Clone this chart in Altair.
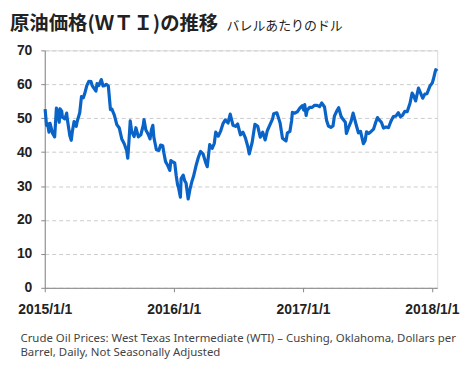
import altair as alt
import pandas as pd

dates = [
    "2015-01-02","2015-01-06","2015-01-09","2015-01-13","2015-01-16","2015-01-23","2015-01-29",
    "2015-02-03","2015-02-06","2015-02-11","2015-02-13","2015-02-18","2015-02-20","2015-02-27",
    "2015-03-04","2015-03-06","2015-03-13","2015-03-17","2015-03-20","2015-03-25","2015-03-31",
    "2015-04-03","2015-04-10","2015-04-15","2015-04-20","2015-04-24","2015-04-30",
    "2015-05-06","2015-05-12","2015-05-15","2015-05-20","2015-05-26","2015-05-29",
    "2015-06-03","2015-06-10","2015-06-15","2015-06-19","2015-06-24","2015-06-30",
    "2015-07-06","2015-07-10","2015-07-17","2015-07-24","2015-07-31",
    "2015-08-07","2015-08-14","2015-08-21","2015-08-24","2015-08-27","2015-08-31",
    "2015-09-04","2015-09-11","2015-09-16","2015-09-23","2015-09-30",
    "2015-10-07","2015-10-09","2015-10-14","2015-10-21","2015-10-26","2015-10-30",
    "2015-11-03","2015-11-06","2015-11-13","2015-11-20","2015-11-25",
    "2015-12-01","2015-12-04","2015-12-09","2015-12-14","2015-12-21","2015-12-24","2015-12-31",
    "2016-01-04","2016-01-08","2016-01-12","2016-01-15","2016-01-20","2016-01-22","2016-01-28",
    "2016-02-01","2016-02-05","2016-02-11","2016-02-16","2016-02-22","2016-02-26",
    "2016-03-04","2016-03-11","2016-03-17","2016-03-24",
    "2016-04-01","2016-04-05","2016-04-12","2016-04-19","2016-04-25","2016-04-29",
    "2016-05-06","2016-05-13","2016-05-20","2016-05-26",
    "2016-06-03","2016-06-09","2016-06-17","2016-06-24","2016-06-30",
    "2016-07-08","2016-07-15","2016-07-22","2016-07-29",
    "2016-08-02","2016-08-10","2016-08-18","2016-08-26",
    "2016-09-02","2016-09-09","2016-09-16","2016-09-22","2016-09-30",
    "2016-10-07","2016-10-10","2016-10-19","2016-10-28",
    "2016-11-04","2016-11-14","2016-11-18","2016-11-25","2016-11-30",
    "2016-12-02","2016-12-09","2016-12-16","2016-12-23","2016-12-30",
    "2017-01-03","2017-01-06","2017-01-10","2017-01-13","2017-01-20","2017-01-27",
    "2017-02-03","2017-02-10","2017-02-17","2017-02-23",
    "2017-03-03","2017-03-09","2017-03-14","2017-03-21","2017-03-27","2017-03-31",
    "2017-04-07","2017-04-12","2017-04-19","2017-04-25",
    "2017-05-01","2017-05-04","2017-05-10","2017-05-17","2017-05-23","2017-05-31",
    "2017-06-07","2017-06-13","2017-06-21","2017-06-26","2017-06-30",
    "2017-07-06","2017-07-13","2017-07-20","2017-07-26","2017-07-31",
    "2017-08-04","2017-08-11","2017-08-17","2017-08-24","2017-08-31",
    "2017-09-07","2017-09-14","2017-09-21","2017-09-28",
    "2017-10-04","2017-10-10","2017-10-16","2017-10-23","2017-10-31",
    "2017-11-06","2017-11-10","2017-11-16","2017-11-24","2017-11-30",
    "2017-12-06","2017-12-12","2017-12-18","2017-12-27",
    "2018-01-02","2018-01-05","2018-01-10","2018-01-12","2018-01-16",
]

prices = [
    52.7,47.9,48.4,45.9,48.5,45.6,44.5,
    53.0,51.7,48.8,52.8,52.1,50.3,49.8,
    51.5,49.6,44.8,43.5,46.0,49.0,47.6,
    49.1,51.6,56.4,56.0,57.2,59.6,
    60.9,60.8,59.7,58.9,58.0,60.2,
    59.6,61.4,59.5,59.6,60.0,59.5,
    52.5,52.7,50.9,48.1,47.1,
    43.9,42.5,40.4,38.2,42.6,49.2,
    46.1,44.6,47.2,44.5,45.1,
    48.0,49.6,46.6,45.2,43.9,46.6,
    47.9,44.3,40.7,40.5,42.1,
    41.9,39.9,37.2,36.3,34.6,37.5,37.0,
    36.8,33.2,30.4,29.4,26.7,32.2,33.2,
    31.6,30.9,26.2,29.0,31.5,32.8,
    35.9,38.5,40.2,39.5,
    36.8,35.7,42.2,41.1,42.6,45.9,
    44.7,46.2,48.5,49.5,
    48.6,51.2,47.9,47.6,48.3,
    45.1,45.9,44.2,41.6,
    39.5,42.8,48.2,47.6,
    44.4,45.9,43.6,46.3,48.2,
    49.8,51.3,51.6,48.7,
    44.1,43.3,45.7,46.1,49.4,
    51.7,51.5,51.9,53.0,53.7,
    52.4,54.0,50.8,52.4,53.2,53.2,
    53.8,53.8,53.4,54.5,
    53.3,49.3,47.7,47.3,47.7,50.6,
    52.2,53.1,50.5,49.6,
    48.8,45.5,47.3,49.0,51.5,48.3,
    45.7,46.1,42.5,43.4,46.0,
    45.5,46.1,46.8,48.8,50.2,
    49.6,48.8,47.1,47.4,47.2,
    49.1,50.5,50.6,51.6,
    50.4,50.9,52.0,51.9,54.4,
    57.4,56.7,55.1,58.9,57.4,
    55.9,57.1,57.2,59.6,
    60.4,61.4,63.6,64.3,63.9,
]

title_text = "原油価格(ＷＴＩ)の推移"
subtitle_text = "バレルあたりのドル"
source_lines = [
    "Crude Oil Prices: West Texas Intermediate (WTI) – Cushing, Oklahoma, Dollars per",
    "Barrel, Daily, Not Seasonally Adjusted",
]
x_ticks = ["2015-01-01", "2016-01-01", "2017-01-01", "2018-01-01"]
y_ticks = [0, 10, 20, 30, 40, 50, 60, 70]

df = pd.DataFrame({"date": pd.to_datetime(dates), "price": prices})

x_values = [alt.DateTime(year=int(d[:4]), month=1, date=1) for d in x_ticks]

line = alt.Chart(df).mark_line(color="#0a64c8", strokeWidth=3.2, strokeJoin="round").encode(
    x=alt.X(
        "date:T",
        scale=alt.Scale(domain=[alt.DateTime(year=2015, month=1, date=1),
                                alt.DateTime(year=2018, month=1, date=16)]),
        axis=alt.Axis(
            values=x_values,
            format="%Y/%-m/%-d",
            labelFont="Liberation Sans",
            labelFontWeight="bold",
            labelFontSize=14,
            labelColor="#222222",
            labelPadding=11,
            labelOverlap=False,
            labelFlush=False,
            tickSize=4,
            tickColor="#888888",
            domainColor="#888888",
            grid=False,
            title=source_lines,
            titleFont="Noto Sans",
            titleFontSize=11.5,
            titleFontWeight="normal",
            titleColor="#444444",
            titleAlign="left",
            titleAnchor="start",
            titleBaseline="alphabetic",
            titleX=-25,
            titleY=54,
            titleLineHeight=14,
        ),
    ),
    y=alt.Y(
        "price:Q",
        scale=alt.Scale(domain=[0, 70]),
        axis=alt.Axis(
            values=y_ticks,
            labelFont="Liberation Sans",
            labelFontWeight="bold",
            labelFontSize=14,
            labelColor="#222222",
            labelPadding=9,
            tickSize=4,
            tickColor="#888888",
            domainColor="#888888",
            grid=True,
            gridColor="#cccccc",
            gridDash=[4, 3],
            gridWidth=1,
            title=None,
        ),
    ),
)

title_df = pd.DataFrame({"t": [title_text]})
sub_df = pd.DataFrame({"t": [subtitle_text]})

title_mark = alt.Chart(title_df).mark_text(
    font="Noto Sans CJK JP", fontWeight="bold", fontSize=19.5, color="#222222",
    align="left", baseline="alphabetic"
).encode(text="t:N", x=alt.value(-35), y=alt.value(-21))

sub_mark = alt.Chart(sub_df).mark_text(
    font="Noto Sans CJK JP", fontSize=13, color="#222222",
    align="left", baseline="alphabetic"
).encode(text="t:N", x=alt.value(183), y=alt.value(-21))

chart = alt.layer(line, title_mark, sub_mark).properties(
    width=395,
    height=239,
    autosize=alt.AutoSizeParams(type="none"),
    padding={"left": 37, "top": 41.5, "right": 30, "bottom": 70},
).configure_view(stroke=None).configure(background="white")

chart.save("out.html", embed_options={"renderer": "svg", "actions": False})
